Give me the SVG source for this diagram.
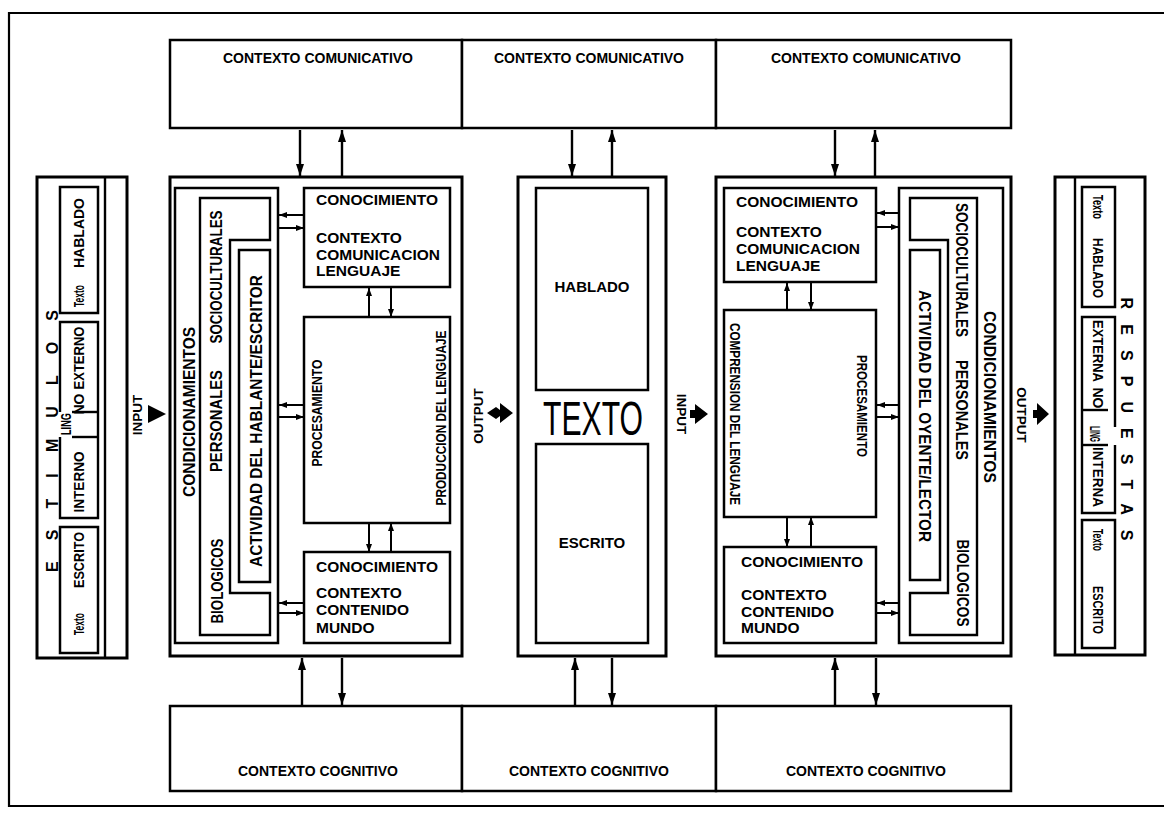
<svg xmlns="http://www.w3.org/2000/svg" width="1164" height="813" viewBox="0 0 1164 813">
<defs>
  <marker id="ah" viewBox="0 0 12 8" refX="12" refY="4" markerWidth="12" markerHeight="8" markerUnits="userSpaceOnUse" orient="auto-start-reverse">
    <path d="M0,0 L12,4 L0,8 z" fill="#000"/>
  </marker>
  <marker id="sm" viewBox="0 0 8 6" refX="8" refY="3" markerWidth="8" markerHeight="6" markerUnits="userSpaceOnUse" orient="auto-start-reverse">
    <path d="M0,0 L8,3 L0,6 z" fill="#000"/>
  </marker>
</defs>
<style>
  .frame{fill:none;stroke:#000;stroke-width:2.2}
  .box{fill:#fff;stroke:#000;stroke-width:2.5}
  .main{fill:#fff;stroke:#000;stroke-width:3}
  .thin{fill:none;stroke:#000;stroke-width:2.4}
  .arr{fill:none;stroke:#000;stroke-width:2.4;marker-end:url(#ah)}
  .sarr{fill:none;stroke:#000;stroke-width:2;marker-end:url(#sm)}
  .t{font-family:"Liberation Sans",Arial,sans-serif;font-weight:bold;fill:#000}
  .ctx{font-size:14px}
  .kn{font-size:15.5px}
  .vt{font-size:16px}
  .sv{font-size:14px}
  .io{font-size:13.5px}
  .mid{text-anchor:middle}
</style>
<rect x="0" y="0" width="1164" height="813" fill="#fff"/>
<!-- page frame; its right side runs past the sheet edge -->
<path class="frame" d="M1170,13 H9 V806 H1170"/>

<!-- communicative context row -->
<g id="ctx-com">
  <rect class="box" x="170" y="40" width="292" height="88"/>
  <rect class="box" x="462" y="40" width="254" height="88"/>
  <rect class="box" x="716" y="40" width="295" height="88"/>
  <text class="t ctx mid" x="318" y="63">CONTEXTO COMUNICATIVO</text>
  <text class="t ctx mid" x="589" y="63">CONTEXTO COMUNICATIVO</text>
  <text class="t ctx mid" x="866" y="63">CONTEXTO COMUNICATIVO</text>
</g>

<!-- cognitive context row -->
<g id="ctx-cog">
  <rect class="box" x="170" y="706" width="292" height="85"/>
  <rect class="box" x="462" y="706" width="254" height="85"/>
  <rect class="box" x="716" y="706" width="295" height="85"/>
  <text class="t ctx mid" x="318" y="776">CONTEXTO COGNITIVO</text>
  <text class="t ctx mid" x="589" y="776">CONTEXTO COGNITIVO</text>
  <text class="t ctx mid" x="866" y="776">CONTEXTO COGNITIVO</text>
</g>

<!-- stimuli column -->
<g id="estimulos">
  <rect class="main" x="37" y="177" width="90" height="481"/>
  <line class="thin" x1="105" y1="177" x2="105" y2="658"/>
  <text class="t vt mid" transform="translate(52 441) rotate(-90)" dy="0.36em" textLength="262" lengthAdjust="spacing">ESTIMULOS</text>
  <rect class="box" x="60" y="187" width="38" height="126"/>
  <text class="t sv mid" transform="translate(79 233) rotate(-90)" dy="0.36em" textLength="70" lengthAdjust="spacingAndGlyphs">HABLADO</text>
  <text class="t sv mid" transform="translate(79 296) rotate(-90)" dy="0.36em" textLength="22" lengthAdjust="spacingAndGlyphs">Texto</text>
  <path class="thin" d="M60,412 V322 H98 V518 H60 V437"/>
  <line class="thin" x1="72" y1="412" x2="98" y2="412"/>
  <line class="thin" x1="72" y1="437" x2="98" y2="437"/>
  <text class="t sv mid" transform="translate(79 358) rotate(-90)" dy="0.36em" textLength="63" lengthAdjust="spacingAndGlyphs">EXTERNO</text>
  <text class="t sv mid" transform="translate(79 404) rotate(-90)" dy="0.36em">NO</text>
  <text class="t sv mid" transform="translate(66 424) rotate(-90)" dy="0.36em" textLength="22" lengthAdjust="spacingAndGlyphs">LING</text>
  <text class="t sv mid" transform="translate(79 482) rotate(-90)" dy="0.36em" textLength="61" lengthAdjust="spacingAndGlyphs">INTERNO</text>
  <rect class="box" x="60" y="527" width="38" height="126"/>
  <text class="t sv mid" transform="translate(79 560) rotate(-90)" dy="0.36em" textLength="56" lengthAdjust="spacingAndGlyphs">ESCRITO</text>
  <text class="t sv mid" transform="translate(79 624) rotate(-90)" dy="0.36em" textLength="22" lengthAdjust="spacingAndGlyphs">Texto</text>
</g>

<!-- speaker / writer activity -->
<g id="hablante">
  <rect class="main" x="170" y="177" width="292" height="479"/>
  <rect class="box" x="175" y="188" width="103" height="455"/>
  <path class="thin" d="M200,198 H270 V240 H230 V593 H270 V635 H200 Z"/>
  <rect class="box" x="239" y="250" width="31" height="332"/>
  <rect class="box" x="304" y="188" width="146" height="99"/>
  <rect class="box" x="304" y="317" width="146" height="206"/>
  <rect class="box" x="304" y="552" width="146" height="91"/>
  <text class="t vt mid" transform="translate(189 412) rotate(-90)" dy="0.36em" textLength="170" lengthAdjust="spacingAndGlyphs">CONDICIONAMIENTOS</text>
  <text class="t vt mid" transform="translate(216 277) rotate(-90)" dy="0.36em" textLength="133" lengthAdjust="spacingAndGlyphs">SOCIOCULTURALES</text>
  <text class="t vt mid" transform="translate(216 421) rotate(-90)" dy="0.36em" textLength="102" lengthAdjust="spacingAndGlyphs">PERSONALES</text>
  <text class="t vt mid" transform="translate(217 581) rotate(-90)" dy="0.36em" textLength="85" lengthAdjust="spacingAndGlyphs">BIOLOGICOS</text>
  <text class="t vt mid" transform="translate(256 421) rotate(-90)" dy="0.36em" textLength="292" lengthAdjust="spacingAndGlyphs">ACTIVIDAD DEL HABLANTE/ESCRITOR</text>
  <text class="t sv mid" transform="translate(317 413) rotate(-90)" dy="0.36em" textLength="107" lengthAdjust="spacingAndGlyphs">PROCESAMIENTO</text>
  <text class="t sv mid" transform="translate(441 418) rotate(-90)" dy="0.36em" textLength="175" lengthAdjust="spacingAndGlyphs">PRODUCCION DEL LENGUAJE</text>
  <text class="t kn" x="316" y="205">CONOCIMIENTO</text>
  <text class="t kn" x="316" y="243">CONTEXTO</text>
  <text class="t kn" x="316" y="260">COMUNICACION</text>
  <text class="t kn" x="316" y="276">LENGUAJE</text>
  <text class="t kn" x="316" y="572">CONOCIMIENTO</text>
  <text class="t kn" x="316" y="598">CONTEXTO</text>
  <text class="t kn" x="316" y="615">CONTENIDO</text>
  <text class="t kn" x="316" y="633">MUNDO</text>
</g>

<!-- text -->
<g id="texto">
  <rect class="main" x="518" y="177" width="148" height="479"/>
  <rect class="box" x="536" y="188" width="112" height="202"/>
  <rect class="box" x="536" y="444" width="112" height="199"/>
  <text class="t mid" x="592" y="292" font-size="15">HABLADO</text>
  <text class="t mid" x="592" y="548" font-size="15">ESCRITO</text>
  <text class="mid" x="593" y="435" font-family="'Liberation Sans',Arial,sans-serif" font-size="48" textLength="100" lengthAdjust="spacingAndGlyphs">TEXTO</text>
</g>

<!-- listener / reader activity -->
<g id="oyente">
  <rect class="main" x="716" y="177" width="295" height="479"/>
  <rect class="box" x="724" y="188" width="152" height="94"/>
  <rect class="box" x="724" y="310" width="152" height="207"/>
  <rect class="box" x="724" y="547" width="152" height="96"/>
  <rect class="box" x="899" y="188" width="104" height="455"/>
  <path class="thin" d="M910,198 H977 V635 H910 V593 H948 V240 H910 Z"/>
  <rect class="box" x="910" y="250" width="30" height="330"/>
  <text class="t vt mid" transform="translate(990 397) rotate(90)" dy="0.36em" textLength="172" lengthAdjust="spacingAndGlyphs">CONDICIONAMIENTOS</text>
  <text class="t vt mid" transform="translate(962 270) rotate(90)" dy="0.36em" textLength="134" lengthAdjust="spacingAndGlyphs">SOCIOCULTURALES</text>
  <text class="t vt mid" transform="translate(962 410) rotate(90)" dy="0.36em" textLength="100" lengthAdjust="spacingAndGlyphs">PERSONALES</text>
  <text class="t vt mid" transform="translate(963 583) rotate(90)" dy="0.36em" textLength="87" lengthAdjust="spacingAndGlyphs">BIOLOGICOS</text>
  <text class="t vt mid" transform="translate(925 416) rotate(90)" dy="0.36em" textLength="252" lengthAdjust="spacingAndGlyphs">ACTIVIDAD DEL OYENTE/LECTOR</text>
  <text class="t sv mid" transform="translate(862 406) rotate(90)" dy="0.36em" textLength="102" lengthAdjust="spacingAndGlyphs">PROCESAMIENTO</text>
  <text class="t sv mid" transform="translate(735 414) rotate(90)" dy="0.36em" textLength="182" lengthAdjust="spacingAndGlyphs">COMPRENSION DEL LENGUAJE</text>
  <text class="t kn" x="736" y="207">CONOCIMIENTO</text>
  <text class="t kn" x="736" y="237">CONTEXTO</text>
  <text class="t kn" x="736" y="254">COMUNICACION</text>
  <text class="t kn" x="736" y="271">LENGUAJE</text>
  <text class="t kn" x="741" y="567">CONOCIMIENTO</text>
  <text class="t kn" x="741" y="600">CONTEXTO</text>
  <text class="t kn" x="741" y="617">CONTENIDO</text>
  <text class="t kn" x="741" y="633">MUNDO</text>
</g>

<!-- responses column -->
<g id="respuestas">
  <rect class="main" x="1055" y="177" width="90" height="478"/>
  <line class="thin" x1="1075" y1="177" x2="1075" y2="655"/>
  <text class="t vt mid" transform="translate(1127 419) rotate(90)" dy="0.36em" textLength="243" lengthAdjust="spacing">RESPUESTAS</text>
  <rect class="box" x="1082" y="187" width="33" height="120"/>
  <text class="t sv mid" transform="translate(1098 207) rotate(90)" dy="0.36em" textLength="24" lengthAdjust="spacingAndGlyphs">Texto</text>
  <text class="t sv mid" transform="translate(1098 268) rotate(90)" dy="0.36em" textLength="60" lengthAdjust="spacingAndGlyphs">HABLADO</text>
  <path class="thin" d="M1115,427 V317 H1082 V513 H1115 V445"/>
  <line class="thin" x1="1082" y1="410" x2="1108" y2="410"/>
  <line class="thin" x1="1082" y1="445" x2="1108" y2="445"/>
  <text class="t sv mid" transform="translate(1098 351) rotate(90)" dy="0.36em" textLength="62" lengthAdjust="spacingAndGlyphs">EXTERNA</text>
  <text class="t sv mid" transform="translate(1098 398) rotate(90)" dy="0.36em">NO</text>
  <text class="t sv mid" transform="translate(1095 434) rotate(90)" dy="0.36em" textLength="16" lengthAdjust="spacingAndGlyphs">LING</text>
  <text class="t sv mid" transform="translate(1098 477) rotate(90)" dy="0.36em" textLength="60" lengthAdjust="spacingAndGlyphs">INTERNA</text>
  <rect class="box" x="1082" y="520" width="33" height="128"/>
  <text class="t sv mid" transform="translate(1098 540) rotate(90)" dy="0.36em" textLength="22" lengthAdjust="spacingAndGlyphs">Texto</text>
  <text class="t sv mid" transform="translate(1098 610) rotate(90)" dy="0.36em" textLength="48" lengthAdjust="spacingAndGlyphs">ESCRITO</text>
</g>

<!-- input / output markers -->
<g id="io">
  <text class="t io mid" transform="translate(137 415) rotate(-90)" dy="0.36em">INPUT</text>
  <path d="M148,405 L166,414 L148,423 Z" fill="#000"/>
  <text class="t io mid" transform="translate(478 416) rotate(-90)" dy="0.36em">OUTPUT</text>
  <path d="M487,413 L496,407 L500,410 L500,403 L513,413 L500,423 L500,416 L496,419 Z" fill="#000"/>
  <text class="t io mid" transform="translate(682 414) rotate(90)" dy="0.36em">INPUT</text>
  <path d="M690,410 L695,410 L695,404 L708,414 L695,424 L695,418 L690,418 Z" fill="#000"/>
  <text class="t io mid" transform="translate(1022 415) rotate(90)" dy="0.36em">OUTPUT</text>
  <path d="M1033,410 L1037,410 L1037,403 L1049,414 L1037,425 L1037,418 L1033,418 Z" fill="#000"/>
</g>

<!-- connectors -->
<g id="connectors">
  <line class="arr" x1="300" y1="130" x2="300" y2="176"/>
  <line class="arr" x1="342" y1="176" x2="342" y2="130"/>
  <line class="arr" x1="572" y1="130" x2="572" y2="176"/>
  <line class="arr" x1="612" y1="176" x2="612" y2="130"/>
  <line class="arr" x1="835" y1="130" x2="835" y2="176"/>
  <line class="arr" x1="875" y1="176" x2="875" y2="130"/>
  <line class="arr" x1="302" y1="705" x2="302" y2="658"/>
  <line class="arr" x1="342" y1="658" x2="342" y2="705"/>
  <line class="arr" x1="575" y1="705" x2="575" y2="658"/>
  <line class="arr" x1="612" y1="658" x2="612" y2="705"/>
  <line class="arr" x1="835" y1="705" x2="835" y2="658"/>
  <line class="arr" x1="876" y1="658" x2="876" y2="705"/>
  <line class="sarr" x1="304" y1="215" x2="279" y2="215"/>
  <line class="sarr" x1="279" y1="228" x2="304" y2="228"/>
  <line class="sarr" x1="304" y1="405" x2="279" y2="405"/>
  <line class="sarr" x1="279" y1="417" x2="304" y2="417"/>
  <line class="sarr" x1="304" y1="603" x2="279" y2="603"/>
  <line class="sarr" x1="279" y1="613" x2="304" y2="613"/>
  <line class="sarr" x1="369" y1="317" x2="369" y2="288"/>
  <line class="sarr" x1="391" y1="288" x2="391" y2="317"/>
  <line class="sarr" x1="369" y1="523" x2="369" y2="552"/>
  <line class="sarr" x1="391" y1="552" x2="391" y2="523"/>
  <line class="sarr" x1="899" y1="213" x2="877" y2="213"/>
  <line class="sarr" x1="877" y1="227" x2="899" y2="227"/>
  <line class="sarr" x1="899" y1="405" x2="877" y2="405"/>
  <line class="sarr" x1="877" y1="417" x2="899" y2="417"/>
  <line class="sarr" x1="899" y1="603" x2="877" y2="603"/>
  <line class="sarr" x1="877" y1="613" x2="899" y2="613"/>
  <line class="sarr" x1="787" y1="310" x2="787" y2="283"/>
  <line class="sarr" x1="811" y1="283" x2="811" y2="310"/>
  <line class="sarr" x1="787" y1="517" x2="787" y2="547"/>
  <line class="sarr" x1="811" y1="547" x2="811" y2="517"/>
</g>
</svg>
